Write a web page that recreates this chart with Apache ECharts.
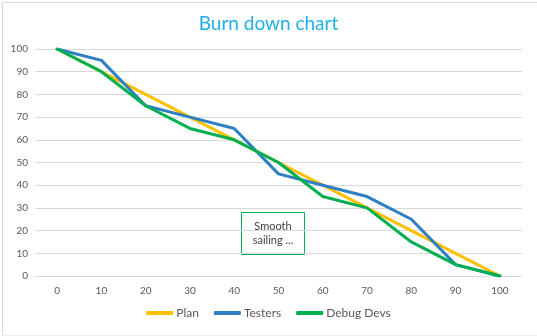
<!DOCTYPE html>
<html>
<head>
<meta charset="utf-8">
<script src="https://cdn.jsdelivr.net/npm/echarts@6/dist/echarts.min.js"></script>
<style>html,body{margin:0;padding:0;background:#fff;}#c{width:537px;height:336px;}</style>
</head>
<body>
<div id="c"></div>
<script>
var categories = ['0','10','20','30','40','50','60','70','80','90','100'];
var plan = [100, 90, 80, 70, 60, 50, 40, 30, 20, 10, 0];
var testers = [100, 95, 75, 70, 65, 45, 40, 35, 25, 5, 0];
var debugDevs = [100, 90, 75, 65, 60, 50, 35, 30, 15, 5, 0];
var yTicks = { min: 0, max: 100, interval: 10 };

var chart = echarts.init(document.getElementById('c'), null, { renderer: 'canvas' });
var font = 'Lato, "Open Sans", sans-serif';
function ser(name, data, color) {
  return { name: name, type: 'line', data: data, symbol: 'none', smooth: false,
    lineStyle: { color: color, width: 3, cap: 'round', join: 'round' }, itemStyle: { color: color } };
}
chart.setOption({
  animation: false,
  title: { text: 'Burn down chart', left: 'center', top: 9,
    textStyle: { color: '#1fb0ea', fontSize: 19, fontWeight: 'normal', fontFamily: font } },
  grid: { left: 35, right: 15, top: 49, bottom: 60, containLabel: false },
  xAxis: { type: 'category', data: categories, boundaryGap: true,
    axisLine: { show: true, lineStyle: { color: '#d9d9d9' } }, axisTick: { show: false },
    axisLabel: { color: '#595959', fontSize: 10, fontFamily: font, margin: 10 } },
  yAxis: { type: 'value', min: yTicks.min, max: yTicks.max, interval: yTicks.interval,
    axisLine: { show: false }, axisTick: { show: false },
    axisLabel: { color: '#595959', fontSize: 10, fontFamily: font, margin: 7 },
    splitLine: { lineStyle: { color: '#d9d9d9', width: 1 } } },
  legend: { bottom: 12, left: 'center', itemWidth: 27, itemHeight: 4, itemGap: 15,
    icon: 'roundRect',
    textStyle: { color: '#595959', fontSize: 12, fontFamily: font, padding: [0, 0, 0, -2] },
    data: ['Plan', 'Testers', 'Debug Devs'] },
  series: [ ser('Plan', plan, '#ffc000'), ser('Testers', testers, '#2e7fc4'), ser('Debug Devs', debugDevs, '#00b050') ],
  graphic: [
    { type: 'rect', left: 0, top: 0, z: 100, silent: true,
      shape: { x: 0.5, y: 0.5, width: 535.5, height: 333.5 },
      style: { fill: 'none', stroke: '#d9d9d9', lineWidth: 1 } },
    { type: 'group', left: 241, top: 212, z: 100, children: [
      { type: 'rect', shape: { x: 0.5, y: 0.5, width: 63, height: 42 },
        style: { fill: '#fff', stroke: '#00b050', lineWidth: 1 } },
      { type: 'text', x: 32, y: 21, style: { text: 'Smooth\nsailing ...', fill: '#404040',
        font: '11px ' + font, align: 'center', verticalAlign: 'middle', lineHeight: 14 } }
    ] }
  ]
});
</script>
</body>
</html>
